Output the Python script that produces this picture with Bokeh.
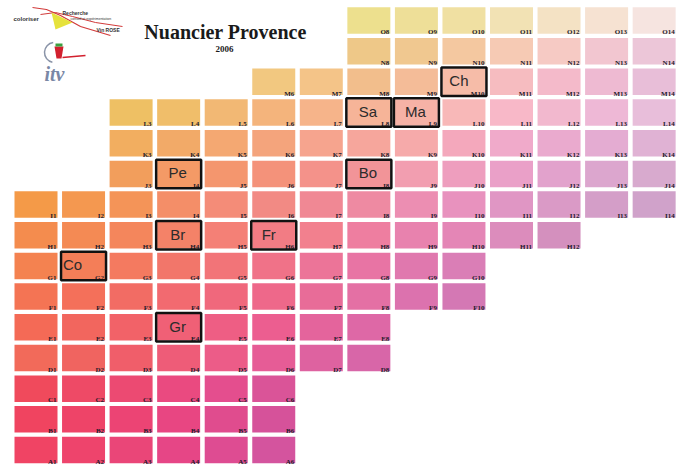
from bokeh.plotting import figure
from bokeh.models import ColumnDataSource, Label
from bokeh.core.properties import value
from bokeh.embed import file_html
from bokeh.resources import INLINE

# ---------------- data ----------------
row_letters = list("ABCDEFGHIJKLMNO")
row_first_col = [1, 1, 1, 1, 1, 1, 1, 1, 1, 3, 3, 3, 6, 8, 8]
row_colors = {
    "A": ["#F04464", "#EE446C", "#EA4678", "#E64686", "#DE4C92", "#D4549E"],
    "B": ["#F04460", "#EE4468", "#EC4474", "#E84682", "#E04C8E", "#D6529A"],
    "C": ["#F04A5C", "#EE4A66", "#EC4A72", "#EA4A80", "#E44E8E", "#DA5498"],
    "D": ["#F26A5A", "#F06460", "#F05E6A", "#EE5C78", "#EC5C88", "#E65C96", "#DE62A0", "#D866A8"],
    "E": ["#F46A56", "#F2665E", "#F26268", "#F06076", "#EE5E84", "#EC5E90", "#E4649C", "#DE68A6"],
    "F": ["#F47454", "#F4705A", "#F26C64", "#F26A70", "#F0687C", "#EE688A", "#E86C98", "#E470A4", "#DC72AE", "#D478B4"],
    "G": ["#F48250", "#F47E58", "#F47A60", "#F2766A", "#F27478", "#F07288", "#EC7498", "#E874A4", "#E078AE", "#DA7EB6"],
    "H": ["#F48C4E", "#F48A54", "#F4865C", "#F48268", "#F48076", "#F27C84", "#F2808E", "#EE7EA0", "#E882AE", "#E486B6", "#DC8CBC", "#D490BE"],
    "I": ["#F49A48", "#F49850", "#F49458", "#F48E68", "#F48C78", "#F28A84", "#F08894", "#EE8AA2", "#EC8EB2", "#E892BE", "#E096C4", "#DA9AC6", "#D49EC8", "#D0A2CA"],
    "J": ["#F29E5C", "#F49A66", "#F4966E", "#F4927A", "#F4928A", "#F29498", "#F29EB0", "#EE9EBE", "#EAA0C8", "#E2A2CC", "#DCA6CE", "#D8AACE"],
    "K": ["#F2AE60", "#F2AA68", "#F4A872", "#F4A47C", "#F6A48E", "#F6A69C", "#F6AAAA", "#F4A8BC", "#F0AACA", "#EAAACE", "#E4ACD2", "#E0B2D4"],
    "L": ["#EEC064", "#F0BE6A", "#F2B874", "#F4B47C", "#F6B48A", "#F6B498", "#F6B2A6", "#F8B8B8", "#F8B8C8", "#F2B8CE", "#EEB8D6", "#E8BEDA"],
    "M": ["#F2C880", "#F4C488", "#F2BE8C", "#F4BC98", "#F6BCA8", "#F6BCC0", "#F4BACA", "#EEBAD2", "#E8BED8"],
    "N": ["#EEC888", "#F0C890", "#F4C8A0", "#F6CAB4", "#F6CAC4", "#F2C6D0", "#ECC6D8"],
    "O": ["#EDE08E", "#EEDF98", "#F0E0A2", "#F2E2B4", "#F4E2C4", "#F6E2D2", "#F6E4E0"],
}
highlight_names = ["Co", "Pe", "Br", "Gr", "Fr", "Sa", "Ma", "Ch", "Bo"]
highlight_cells = ["G2", "J4", "H4", "E4", "H6", "L8", "L9", "M10", "J8"]
title_text = "Nuancier Provence"
subtitle_text = "2006"

# ---------------- layout / style ----------------
W, H = 688, 466
PX, PY = 47.55, 30.68
X0 = 1 - 35.5 / PX
X1 = X0 + W / PX
Y1 = 1 + 449.5 / PY
Y0 = Y1 - H / PY
CW = 43 / PX
CH = 26.5 / PY
highlight_text_dx_px = [-10, 0, 0, 0, -4, 0, 0, -4, 0]


def dx(page_x):
    return X0 + page_x / PX


def dy(page_y):
    return Y1 - page_y / PY


xs, ys, cols, labels = [], [], [], []
for ri, letter in enumerate(row_letters):
    for ci, c in enumerate(row_colors[letter]):
        col = row_first_col[ri] + ci
        xs.append(col)
        ys.append(ri + 1)
        cols.append(c)
        labels.append(f"{letter}{col}")

src = ColumnDataSource(dict(
    x=xs, y=ys, color=cols, label=labels,
    lx=[x + CW / 2 - 1 / PX for x in xs],
    ly=[y - CH / 2 + 1.5 / PY for y in ys],
))

hx = [int(c[1:]) for c in highlight_cells]
hy = [row_letters.index(c[0]) + 1 for c in highlight_cells]
hsrc = ColumnDataSource(dict(x=hx, y=hy, name=highlight_names,
                             tx=[x + (d - 1) / PX for x, d in zip(hx, highlight_text_dx_px)],
                             ty=[y + 1 / PY for y in hy]))

p = figure(width=W, height=H, x_range=(X0, X1), y_range=(Y0, Y1),
           output_backend="svg", toolbar_location=None,
           x_axis_location=None, y_axis_location=None, min_border=0)
p.grid.visible = False
p.outline_line_color = None
p.background_fill_color = "white"

p.rect(x="x", y="y", width=CW, height=CH, fill_color="color",
       line_color=None, source=src)
p.text(x="lx", y="ly", text="label", source=src, text_align="right",
       text_baseline="alphabetic", text_font=value("Liberation Serif"),
       text_font_style="bold", text_font_size="7px", text_color="#1e1a2a")

p.rect(x="x", y="y", width=CW + 2 / PX, height=CH + 2 / PY, fill_color=None,
       line_color="#111111", line_width=2.5, source=hsrc)
p.text(x="tx", y="ty", text="name", source=hsrc, text_align="center",
       text_baseline="middle", text_font=value("Liberation Sans"),
       text_font_size="15px", text_color="#2b2b2b")

# ---------------- title ----------------
p.add_layout(Label(x=225, y=H - 31, x_units="screen", y_units="screen",
                   text=title_text, text_align="center", text_baseline="alphabetic",
                   text_font="Liberation Serif", text_font_style="bold",
                   text_font_size="20px", text_color="#1a1a1a"))
p.add_layout(Label(x=224, y=H - 48, x_units="screen", y_units="screen",
                   text=subtitle_text, text_align="center", text_baseline="alphabetic",
                   text_font="Liberation Serif", text_font_style="bold",
                   text_font_size="9px", text_color="#1a1a1a"))

# ---------------- logos (decorative) ----------------
p.line([dx(p_) for p_ in (32, 46, 60, 80, 110)], [dy(p_) for p_ in (7, 9, 15, 26, 35)],
       line_color="#D23A3A", line_width=1.2)
p.line([dx(p_) for p_ in (40, 55, 72, 95, 122)], [dy(p_) for p_ in (14, 12, 16, 22, 26)],
       line_color="#D23A3A", line_width=1.0)
p.patch([dx(51), dx(72), dx(55)], [dy(12), dy(22), dy(29)],
        fill_color="#E6E23C", line_color=None)
for txt, x_, y_, sz, st in [("coloriser", 13, 18, "6px", "bold"),
                            ("Recherche", 62, 12, "5px", "bold"),
                            ("conseil et expérimentation", 70, 18, "3.5px", "normal"),
                            ("Vin ROSE", 96, 29, "5px", "bold")]:
    p.text(x=[dx(x_)], y=[dy(y_)], text=[txt], text_font=value("Liberation Sans"),
           text_font_size=sz, text_font_style=st, text_color="#333333",
           text_baseline="alphabetic")
p.arc(x=[dx(54)], y=[dy(52)], radius=10 / PX, start_angle=1.7, end_angle=4.5,
      line_color="#8A94A8", line_width=1.5)
p.patch([dx(54), dx(63), dx(61), dx(56)], [dy(46), dy(46), dy(58), dy(58)],
        fill_color="#D2202E", line_color=None)
p.quad(left=[dx(55)], right=[dx(62)], top=[dy(43)], bottom=[dy(46)],
       fill_color="#3CA040", line_color=None)
p.line([dx(62), dx(85)], [dy(57), dy(55)], line_color="#D2202E", line_width=1.5)
p.text(x=[dx(44)], y=[dy(73)], text=["itv"], text_font=value("Liberation Serif"),
       text_font_size="20px", text_font_style="bold italic", text_color="#7A88A6",
       text_baseline="alphabetic")

open("out.html", "w").write(file_html(p, INLINE))
